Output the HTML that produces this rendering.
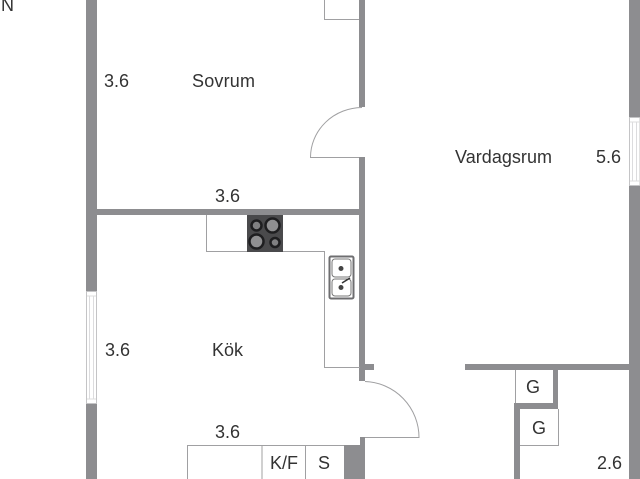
<!DOCTYPE html>
<html><head><meta charset="utf-8"><style>
html,body{margin:0;padding:0;background:#fff;width:640px;height:479px;overflow:hidden}
svg{display:block;filter:blur(0.35px)}
text{font-family:"Liberation Sans",sans-serif;font-size:18px;fill:#333}
</style></head><body>
<svg width="640" height="479" viewBox="0 0 640 479" xmlns="http://www.w3.org/2000/svg">
<g fill="#8d8d90">
<rect x="86" y="0" width="11" height="291"/>
<rect x="86" y="404" width="11" height="75"/>
<rect x="97" y="209" width="262" height="6"/>
<rect x="359" y="0" width="6" height="107"/>
<rect x="359" y="157" width="6" height="224"/>
<rect x="365" y="364" width="9" height="6"/>
<rect x="360" y="437" width="5" height="8"/>
<rect x="344" y="445" width="21" height="34"/>
<rect x="629" y="0" width="11" height="117"/>
<rect x="629" y="186" width="11" height="293"/>
<rect x="465" y="364" width="164" height="6"/>
<rect x="553" y="370" width="5" height="39"/>
<rect x="514" y="403" width="44" height="6"/>
<rect x="514" y="403" width="6" height="76"/>
</g>
<g fill="none" stroke="#a0a0a2" stroke-width="1">
<path d="M324.5 0V19.5H359"/>
<path d="M362 107.5A52 50 0 0 0 310.500 157.500H359"/>
<path d="M206.500 215V251.500H324.500V367.500H360"/>
<path d="M365 381.500A56 56 0 0 1 419 437.500H365"/>
<path d="M187.500 479V445.500H344M262 445V479M305.500 445V479"/>
<path d="M515.500 370V403M520 445.500H558.500V409"/>
<rect x="86.500" y="291.500" width="10" height="112" stroke="#c4c4c6"/>
<path d="M89.500 296V399M93.500 296V399M87 296H96M87 399H96" stroke="#dcdcde"/>
<rect x="629.500" y="117.500" width="10.500" height="68" stroke="#c4c4c6"/>
<path d="M632.500 122V181M636.500 122V181M630 122H640M630 181H640" stroke="#dcdcde"/>
</g>
<rect x="247" y="215" width="36" height="37" fill="#4a4a4c"/>
<g stroke="#1e1e20" stroke-width="2.500">
<circle cx="256.500" cy="225.500" r="5" fill="#808082"/>
<circle cx="272.500" cy="225.500" r="7" fill="#8f8f91"/>
<circle cx="256.500" cy="241.500" r="7" fill="#8f8f91"/>
<circle cx="275" cy="242.500" r="4.500" fill="#808082"/>
</g>
<rect x="329.500" y="256.500" width="24" height="42" rx="1.500" fill="#fff" stroke="#6e6e70" stroke-width="2"/>
<rect x="332" y="259" width="19" height="18" rx="3" fill="#fff" stroke="#777" stroke-width="1"/>
<rect x="332" y="279" width="19" height="17" rx="3" fill="#fff" stroke="#777" stroke-width="1"/>
<circle cx="341" cy="268.500" r="2.500" fill="#444"/>
<circle cx="341" cy="287.500" r="2.500" fill="#444"/>
<path d="M342 283L350 278" stroke="#333" stroke-width="1.500"/>
<text x="1" y="11">N</text>
<text x="104" y="87">3.6</text>
<text x="192" y="87" textLength="63">Sovrum</text>
<text x="215" y="202">3.6</text>
<text x="455" y="163" textLength="97">Vardagsrum</text>
<text x="596" y="163">5.6</text>
<text x="105" y="356">3.6</text>
<text x="212" y="356">Kök</text>
<text x="215" y="438">3.6</text>
<text x="270" y="469">K/F</text>
<text x="318" y="469">S</text>
<text x="526" y="393">G</text>
<text x="532" y="434">G</text>
<text x="597" y="469">2.6</text>
</svg>
</body></html>
